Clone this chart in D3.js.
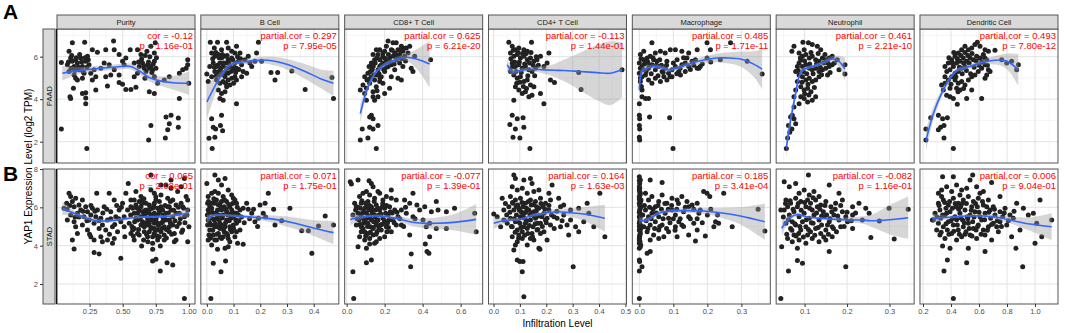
<!DOCTYPE html>
<html>
<head>
<meta charset="utf-8">
<script src="https://cdn.jsdelivr.net/npm/d3@7"></script>
<style>
body { margin: 0; background: #fff; }
svg { display: block; font-family: "Liberation Sans", Arial, sans-serif; }
</style>
</head>
<body>
<svg id="chart" width="1065" height="333"></svg>
<script>
var cells = ["Purity", "B Cell", "CD8+ T Cell", "CD4+ T Cell", "Macrophage", "Neutrophil", "Dendritic Cell"];
var cohorts = ["PAAD", "STAD"];
var corText = [
    ["cor = -0.12", "partial.cor = 0.297", "partial.cor = 0.625", "partial.cor = -0.113", "partial.cor = 0.485", "partial.cor = 0.461", "partial.cor = 0.493"],
    ["cor = 0.065", "partial.cor = 0.071", "partial.cor = -0.077", "partial.cor = 0.164", "partial.cor = 0.185", "partial.cor = -0.082", "partial.cor = 0.006"]
];
var pText = [
    ["p = 1.16e-01", "p = 7.95e-05", "p = 6.21e-20", "p = 1.44e-01", "p = 1.71e-11", "p = 2.21e-10", "p = 7.80e-12"],
    ["p = 2.08e-01", "p = 1.75e-01", "p = 1.39e-01", "p = 1.63e-03", "p = 3.41e-04", "p = 1.16e-01", "p = 9.04e-01"]
];
var xTicks = [
    [0.25, 0.5, 0.75, 1.0],
    [0, 0.1, 0.2, 0.3, 0.4],
    [0, 0.2, 0.4, 0.6],
    [0, 0.1, 0.2, 0.3, 0.4, 0.5],
    [0, 0.1, 0.2, 0.3],
    [0.1, 0.2, 0.3],
    [0.2, 0.4, 0.6, 0.8, 1.0]
];
var xDomains = [[0.004, 1.046], [-0.0225, 0.494], [-0.0105, 0.716], [-0.019, 0.504], [-0.0206, 0.385], [0.033, 0.358], [0.1786, 1.164]];
var yTicks = [[2, 4, 6], [2, 4, 6, 8]];
var yDomains = [[1.0, 7.30], [0.957, 8.0]];

// PAAD
var paadPurity = [[0.037,2.60],[0.229,1.68],[0.037,5.73],[0.095,6.25],[0.107,5.94],[0.12,5.78],[0.133,5.54],[0.145,5.86],[0.158,5.70],[0.170,5.38],[0.183,5.94],[0.196,5.54],[0.208,5.22],[0.221,5.78],[0.234,6.02],[0.246,5.62],[0.082,5.62],[0.095,5.30],[0.133,5.14],[0.158,4.90],[0.196,4.98],[0.12,6.65],[0.213,6.68],[0.271,6.33],[0.309,6.21],[0.372,6.33],[0.431,6.73],[0.436,6.33],[0.102,4.11],[0.107,4.03],[0.128,4.51],[0.145,4.98],[0.196,4.27],[0.221,4.30],[0.221,4.06],[0.221,3.79],[0.297,4.43],[0.271,4.90],[0.372,5.06],[0.385,4.62],[0.473,5.14],[0.473,4.78],[0.499,4.70],[0.524,4.46],[0.562,4.46],[0.6,4.56],[0.587,5.06],[0.612,5.22],[0.499,5.78],[0.524,5.94],[0.557,6.33],[0.587,5.70],[0.625,5.54],[0.643,5.89],[0.65,5.70],[0.663,5.46],[0.676,5.30],[0.688,5.62],[0.701,5.46],[0.713,5.54],[0.726,5.38],[0.739,5.78],[0.751,5.46],[0.713,6.49],[0.739,6.17],[0.683,6.25],[0.638,6.10],[0.612,6.33],[0.473,6.10],[0.511,5.62],[0.436,5.38],[0.41,5.14],[0.335,5.46],[0.36,5.70],[0.398,5.62],[0.284,5.38],[0.259,5.22],[0.297,5.06],[0.668,4.98],[0.701,4.35],[0.739,4.27],[0.739,5.06],[0.764,4.75],[0.814,4.90],[0.852,5.06],[0.928,4.03],[0.928,5.22],[0.979,5.46],[0.991,5.86],[0.999,4.75],[0.991,5.62],[0.953,5.38],[0.713,2.76],[0.696,2.08],[0.827,3.16],[0.865,3.24],[0.852,2.84],[0.840,2.56],[0.822,2.17],[0.92,3.11],[0.92,2.68],[0.746,6.65],
    [0.09,5.75],[0.11,5.45],[0.115,6.05],[0.14,5.35],[0.15,5.95],[0.165,5.5],[0.175,6.1],[0.19,5.75],[0.2,5.3],[0.215,5.95],[0.23,5.5],[0.24,5.85],[0.62,5.75],[0.66,5.55],[0.67,6.05],[0.695,5.75],[0.72,5.25],[0.73,5.65],[0.755,5.95],[0.705,6.0]];
var paadBCell = [[0.013,6.68],[0.04,6.68],[0.074,6.68],[0.08,6.41],[0.111,6.49],[0.0,5.19],[0.005,4.83],[0.018,6.17],[0.03,6.02],[0.043,6.10],[0.055,5.94],[0.068,6.02],[0.08,5.86],[0.093,5.94],[0.105,5.70],[0.118,5.78],[0.13,5.62],[0.024,5.70],[0.036,5.54],[0.049,5.70],[0.061,5.54],[0.074,5.46],[0.086,5.54],[0.099,5.38],[0.111,5.46],[0.03,5.30],[0.043,5.14],[0.055,5.30],[0.068,5.06],[0.08,5.22],[0.093,4.98],[0.105,5.06],[0.036,4.90],[0.049,4.75],[0.061,4.83],[0.074,4.59],[0.086,4.67],[0.043,4.43],[0.055,4.27],[0.068,4.35],[0.049,4.03],[0.061,3.95],[0.08,4.90],[0.111,4.90],[0.13,5.06],[0.149,5.22],[0.168,5.54],[0.18,5.78],[0.186,6.17],[0.193,6.68],[0.155,6.02],[0.143,5.86],[0.124,6.17],[0.136,5.30],[0.111,3.79],[0.018,5.06],[0.011,5.54],[0.028,6.41],[0.105,6.17],[0.055,6.33],[0.074,5.70],[0.093,6.25],[0.161,5.70],[0.205,5.78],[0.24,5.25],[0.255,4.90],[0.265,5.25],[0.318,5.33],[0.368,4.46],[0.468,5.02],[0.474,4.03],[0.018,3.08],[0.024,2.68],[0.033,2.60],[0.008,2.16],[0.02,1.68],[0.055,3.24],[0.051,2.76],[0.059,2.52],[0.03,2.21],
    [0.022,5.9],[0.028,5.5],[0.034,6.2],[0.04,5.6],[0.046,5.95],[0.052,5.45],[0.058,6.1],[0.063,5.7],[0.07,5.25],[0.076,6.05],[0.083,5.7],[0.09,5.3],[0.097,5.85],[0.102,5.5],[0.108,5.25],[0.115,6.0],[0.12,5.4],[0.126,5.9],[0.06,5.15],[0.045,5.3],[0.035,5.1],[0.07,4.75],[0.1,4.75]];
var paadCD8 = [[0.072,2.08],[0.082,2.60],[0.112,2.17],[0.121,2.68],[0.139,2.60],[0.165,2.76],[0.156,1.68],[0.121,3.16],[0.13,3.24],[0.139,3.08],[0.072,4.43],[0.086,4.67],[0.095,4.27],[0.104,4.51],[0.107,4.90],[0.121,4.75],[0.13,5.06],[0.139,4.35],[0.139,4.11],[0.147,4.90],[0.156,5.14],[0.156,4.59],[0.165,5.38],[0.174,5.54],[0.182,5.06],[0.191,5.70],[0.2,5.30],[0.209,5.78],[0.218,5.54],[0.226,5.94],[0.235,5.62],[0.244,6.02],[0.253,6.17],[0.261,5.86],[0.27,6.33],[0.279,6.10],[0.288,6.49],[0.296,6.25],[0.305,6.02],[0.314,6.41],[0.323,6.17],[0.118,5.54],[0.13,5.70],[0.147,5.86],[0.165,6.10],[0.174,6.33],[0.191,6.17],[0.209,6.49],[0.218,6.73],[0.244,6.65],[0.261,6.65],[0.112,5.22],[0.095,5.06],[0.174,4.83],[0.191,4.75],[0.235,5.06],[0.27,4.98],[0.288,4.90],[0.34,5.46],[0.349,5.30],[0.442,5.86],[0.332,6.49],[0.358,6.02],[0.226,4.51],[0.2,4.27],[0.165,4.11],[0.147,3.95],[0.104,3.95],[0.156,6.33],[0.139,6.10],[0.135,5.38],[0.174,5.86],[0.2,5.94],[0.235,6.33],[0.279,5.70],[0.296,5.54],[0.253,5.38],
    [0.125,5.3],[0.14,5.55],[0.15,5.7],[0.16,5.95],[0.17,5.2],[0.18,5.6],[0.19,6.0],[0.2,6.25],[0.21,5.5],[0.22,6.1],[0.23,5.75],[0.24,6.3],[0.25,5.65],[0.26,6.1],[0.27,5.95],[0.28,6.3],[0.29,5.9],[0.3,6.4],[0.31,5.8],[0.12,4.95],[0.145,5.15],[0.16,4.4],[0.175,5.0],[0.195,5.4]];
var paadCD4 = [[0.071,3.24],[0.09,3.08],[0.112,3.13],[0.062,2.81],[0.083,2.60],[0.115,2.68],[0.074,2.21],[0.1,2.17],[0.138,1.68],[0.058,6.68],[0.071,6.49],[0.083,6.33],[0.096,6.41],[0.115,6.33],[0.144,6.68],[0.064,6.17],[0.077,6.02],[0.09,6.10],[0.102,5.94],[0.115,6.02],[0.128,5.86],[0.14,5.94],[0.153,5.78],[0.165,5.86],[0.178,6.02],[0.071,5.70],[0.083,5.54],[0.096,5.62],[0.109,5.46],[0.121,5.54],[0.134,5.38],[0.146,5.30],[0.159,5.46],[0.064,5.30],[0.077,5.14],[0.09,4.98],[0.102,5.06],[0.115,4.83],[0.128,4.90],[0.14,4.67],[0.153,4.59],[0.083,4.59],[0.096,4.43],[0.109,4.27],[0.121,4.35],[0.134,4.11],[0.146,4.19],[0.077,3.95],[0.191,3.79],[0.178,4.27],[0.203,5.70],[0.191,5.54],[0.216,4.90],[0.21,6.17],[0.231,4.78],[0.128,6.25],[0.323,5.25],[0.332,4.46],[0.487,5.38],
    [0.066,5.9],[0.07,5.5],[0.075,6.3],[0.08,5.75],[0.085,5.3],[0.088,4.75],[0.093,6.2],[0.098,5.75],[0.105,5.25],[0.11,6.15],[0.113,4.6],[0.118,5.65],[0.124,6.15],[0.13,5.1],[0.136,5.7],[0.142,6.2],[0.15,5.6],[0.156,5.1],[0.162,6.0],[0.17,5.6],[0.1,4.8],[0.125,4.5]];
var paadMacrophage = [[0.0,3.79],[0.0,3.24],[0.001,3.08],[0.0,2.76],[0.001,2.60],[0.0,2.21],[0.001,2.08],[0.03,3.16],[0.089,3.13],[0.099,1.68],[0.008,4.11],[0.018,4.03],[0.027,4.03],[0.008,4.43],[0.003,4.83],[0.003,6.10],[0.013,6.25],[0.037,6.65],[0.047,6.17],[0.062,6.25],[0.076,6.17],[0.091,6.33],[0.106,6.33],[0.125,6.25],[0.145,6.17],[0.17,6.33],[0.199,6.65],[0.209,6.33],[0.268,6.65],[0.0,5.70],[0.008,5.54],[0.018,5.70],[0.027,5.46],[0.037,5.62],[0.047,5.38],[0.057,5.54],[0.067,5.30],[0.076,5.46],[0.086,5.22],[0.096,5.38],[0.106,5.54],[0.116,5.30],[0.125,5.62],[0.135,5.70],[0.145,5.54],[0.155,5.78],[0.165,5.86],[0.175,5.46],[0.0,5.22],[0.008,5.06],[0.018,5.14],[0.027,4.90],[0.037,4.75],[0.047,4.98],[0.062,4.83],[0.072,5.06],[0.081,4.90],[0.096,5.06],[0.121,5.14],[0.135,5.30],[0.003,5.46],[0.013,5.86],[0.023,5.94],[0.032,6.02],[0.042,5.86],[0.052,5.78],[0.081,5.78],[0.111,5.86],[0.14,5.94],[0.199,5.94],[0.238,5.86],[0.317,5.78],[0.361,5.19],[0.17,5.46],[0.179,5.54],
    [0.005,5.9],[0.01,5.4],[0.015,5.65],[0.02,5.3],[0.025,5.75],[0.03,5.55],[0.035,5.2],[0.04,5.95],[0.05,5.6],[0.055,5.1],[0.06,5.85],[0.065,5.6],[0.07,5.25],[0.08,5.6],[0.09,5.05],[0.1,5.7],[0.11,5.2],[0.12,5.45],[0.13,5.95],[0.15,5.4],[0.16,5.6],[0.185,5.65],[0.21,5.75],[0.003,5.0],[0.006,4.6]];
var paadNeutrophil = [[0.057,1.68],[0.06,2.17],[0.062,2.76],[0.067,3.16],[0.071,3.24],[0.075,3.08],[0.079,2.84],[0.07,2.60],[0.065,2.44],[0.07,6.25],[0.075,6.49],[0.096,6.68],[0.109,6.65],[0.118,6.57],[0.13,6.49],[0.087,6.17],[0.095,6.02],[0.103,6.10],[0.111,5.94],[0.118,6.02],[0.126,5.86],[0.134,5.78],[0.142,5.94],[0.15,5.86],[0.158,5.94],[0.165,6.02],[0.177,5.86],[0.087,5.70],[0.095,5.54],[0.103,5.62],[0.111,5.46],[0.118,5.38],[0.126,5.46],[0.134,5.30],[0.142,5.38],[0.15,5.46],[0.079,5.30],[0.087,5.14],[0.095,5.06],[0.103,4.90],[0.111,4.98],[0.118,4.83],[0.126,4.90],[0.083,4.83],[0.091,4.59],[0.099,4.43],[0.107,4.51],[0.115,4.35],[0.091,4.11],[0.099,4.03],[0.107,3.87],[0.126,4.11],[0.118,3.95],[0.154,5.14],[0.083,5.54],[0.091,5.86],[0.099,6.33],[0.138,6.33],[0.134,5.06],[0.158,5.54],[0.195,5.62],[0.195,5.19],[0.181,5.38],[0.165,5.62],[0.079,4.43],[0.075,4.11],[0.075,3.63],[0.087,3.79],
    [0.085,5.35],[0.09,5.95],[0.094,4.8],[0.097,5.3],[0.1,5.8],[0.105,5.2],[0.108,4.7],[0.112,5.65],[0.115,6.2],[0.12,5.2],[0.123,4.55],[0.128,5.65],[0.132,6.15],[0.137,5.5],[0.14,5.15],[0.145,5.7],[0.148,6.1],[0.155,5.7],[0.16,5.25],[0.17,5.7],[0.1,4.25],[0.11,4.2]];
var paadDendritic = [[0.221,2.60],[0.221,2.08],[0.255,3.13],[0.31,3.24],[0.34,3.08],[0.374,3.13],[0.35,2.76],[0.31,2.56],[0.326,2.68],[0.35,2.17],[0.417,1.68],[0.445,3.76],[0.333,4.67],[0.357,4.75],[0.381,4.90],[0.405,5.06],[0.429,5.22],[0.452,5.30],[0.476,5.46],[0.5,5.54],[0.357,5.54],[0.381,5.70],[0.405,5.86],[0.429,6.02],[0.452,6.17],[0.476,6.33],[0.5,6.49],[0.524,6.33],[0.548,6.41],[0.571,6.57],[0.588,6.68],[0.607,6.49],[0.643,6.33],[0.667,6.25],[0.714,6.30],[0.393,5.38],[0.417,5.54],[0.44,5.70],[0.464,5.78],[0.488,5.94],[0.512,5.78],[0.536,5.94],[0.56,5.86],[0.583,6.02],[0.607,5.94],[0.631,6.10],[0.655,5.86],[0.429,4.90],[0.452,4.75],[0.476,4.83],[0.5,4.67],[0.524,4.90],[0.548,5.06],[0.571,5.14],[0.595,5.30],[0.619,5.46],[0.643,5.62],[0.667,5.38],[0.369,4.19],[0.393,4.11],[0.417,4.03],[0.464,4.43],[0.512,4.03],[0.548,4.43],[0.619,4.03],[0.643,4.98],[0.655,5.14],[0.679,5.30],[0.762,5.86],[0.798,5.70],[0.833,5.78],[0.881,5.62],[0.869,5.38],[0.357,5.06],[0.345,4.43],[0.393,4.51],[0.44,4.51],
    [0.37,5.3],[0.385,5.95],[0.4,4.7],[0.41,5.7],[0.42,6.2],[0.435,5.05],[0.445,5.9],[0.46,5.5],[0.47,6.05],[0.48,5.2],[0.49,5.7],[0.5,6.2],[0.51,5.35],[0.52,6.05],[0.53,5.7],[0.54,5.2],[0.55,6.15],[0.565,5.5],[0.58,5.8],[0.6,5.6],[0.62,5.75],[0.64,5.95],[0.66,5.6],[0.45,4.35],[0.49,4.5]];

// STAD
var stadPurity = [[0.057,5.95],[0.077,6.21],[0.095,6.73],[0.107,6.56],[0.12,6.30],[0.133,6.03],[0.145,6.47],[0.158,5.69],[0.17,6.12],[0.183,5.86],[0.196,6.38],[0.208,5.51],[0.221,6.03],[0.234,5.77],[0.246,5.34],[0.259,5.60],[0.271,5.95],[0.284,5.17],[0.297,5.51],[0.309,5.86],[0.322,4.90],[0.335,5.43],[0.347,5.08],[0.36,6.03],[0.372,4.82],[0.385,5.34],[0.398,6.73],[0.41,5.77],[0.423,4.99],[0.436,6.38],[0.448,5.51],[0.461,4.73],[0.473,5.86],[0.304,6.73],[0.133,5.25],[0.145,4.99],[0.158,4.64],[0.196,5.08],[0.234,4.82],[0.259,4.47],[0.284,4.30],[0.335,4.47],[0.385,4.30],[0.436,4.38],[0.107,5.60],[0.082,5.34],[0.486,5.25],[0.12,4.30],[0.133,3.83],[0.284,3.65],[0.322,3.57],[0.347,4.21],[0.423,4.12],
    [0.499,6.21],[0.511,5.51],[0.524,6.73],[0.537,5.86],[0.549,5.17],[0.562,6.38],[0.575,4.82],[0.587,5.69],[0.6,6.12],[0.612,5.34],[0.625,4.56],[0.638,6.56],[0.65,5.77],[0.663,4.99],[0.676,6.21],[0.688,5.43],[0.701,4.73],[0.713,6.90],[0.726,5.95],[0.739,5.17],[0.751,6.38],[0.764,5.60],[0.777,4.47],[0.789,6.64],[0.802,5.86],[0.814,4.99],[0.827,7.17],[0.84,6.03],[0.852,5.34],[0.865,7.43],[0.878,6.38],[0.89,4.64],[0.903,5.69],[0.915,6.82],[0.928,5.17],[0.941,6.21],[0.953,4.82],[0.966,5.51],[0.979,6.56],[0.991,5.86],[1.0,4.99],[0.542,7.25],[0.713,7.69],[0.789,7.17],[0.865,6.99],[0.966,7.51],[0.6,6.82],[0.516,4.47],[0.587,4.30],[0.658,4.30],[0.726,4.12],[0.814,4.30],[0.89,4.21],[0.739,4.90],[0.638,6.03],[0.688,5.86],[0.764,5.95],[0.814,5.51],[0.865,5.86],[0.663,5.60],[0.713,5.51],[0.612,5.69],[0.84,4.82],[0.789,5.17],[0.928,5.69],[0.903,4.30],[0.991,4.21],[0.726,3.81],[0.784,3.98],[0.643,3.98],[0.726,3.20],[0.751,3.29],[0.784,2.68],[0.835,3.11],[0.878,2.99],[0.966,1.25],[0.486,3.34],[0.562,4.64],[0.688,5.08],[0.764,4.82],[0.878,5.08],[0.953,6.03],[0.511,4.99],[0.65,6.38],[0.562,6.03],[0.739,6.73],[0.84,6.47],[0.941,7.08],[0.991,6.38],
    [0.575,5.95],[0.6,5.43],[0.625,5.86],[0.65,5.25],[0.676,5.69],[0.701,5.17],[0.726,5.60],[0.751,5.34],[0.777,5.77],[0.802,5.25],[0.827,5.69],[0.852,4.99],[0.878,5.51],[0.903,6.12],[0.587,4.90],[0.612,4.64],[0.638,5.08],[0.663,4.73],[0.688,4.47],[0.713,4.90],[0.739,4.64],[0.764,5.17],[0.789,4.73],[0.814,4.56],[0.852,4.73],[0.739,5.69],[0.701,6.12],[0.777,6.30],[0.827,5.34],[0.625,6.30],[0.676,5.17],[0.726,4.47],[0.764,4.30],[0.701,5.69],[0.802,5.60],[0.852,6.03],[0.587,6.38],[0.638,5.51],[0.789,6.03],[0.739,6.21],
    [0.56,5.6],[0.57,5.0],[0.59,5.25],[0.61,5.95],[0.62,4.85],[0.63,5.4],[0.645,6.2],[0.655,5.05],[0.67,5.85],[0.68,4.6],[0.69,5.3],[0.705,5.9],[0.715,4.95],[0.72,5.35],[0.735,6.05],[0.745,4.8],[0.755,5.5],[0.77,5.05],[0.78,5.85],[0.795,4.9],[0.805,5.45],[0.82,6.1],[0.83,4.85],[0.845,5.7],[0.86,5.2],[0.87,4.6],[0.885,5.85],[0.895,5.3],[0.91,5.0],[0.92,6.0],[0.935,5.4],[0.945,4.7],[0.96,5.95],[0.97,5.2],[0.985,5.6],[0.69,4.2],[0.76,4.5],[0.83,4.4],[0.58,4.5],[0.66,6.45],[0.75,6.55],[0.86,6.3],
    [0.08,5.9],[0.1,6.1],[0.14,5.5],[0.17,5.5],[0.2,5.8],[0.23,5.3],[0.26,6.1],[0.29,5.8],[0.32,5.3],[0.35,5.7],[0.38,5.9],[0.41,5.4],[0.44,5.1],[0.47,5.4],[0.49,6.0],[0.25,4.6],[0.4,4.6],[0.455,6.1]];
var stadBCell = [[0.0,7.25],[0.018,6.73],[0.03,7.69],[0.043,7.43],[0.055,7.17],[0.068,7.51],[0.08,6.90],[0.036,6.38],[0.049,6.12],[0.061,6.56],[0.074,6.30],[0.086,6.03],[0.099,6.47],[0.111,6.21],[0.124,5.86],[0.005,6.56],[0.011,6.03],[0.024,5.69],[0.036,5.43],[0.049,5.17],[0.061,5.60],[0.074,5.34],[0.086,4.99],[0.099,5.51],[0.111,5.17],[0.124,4.82],[0.005,5.34],[0.011,4.82],[0.024,4.56],[0.036,4.30],[0.049,4.90],[0.061,4.47],[0.074,4.64],[0.086,4.21],[0.105,4.47],[0.005,4.30],[0.018,4.03],[0.03,4.99],[0.043,4.64],[0.055,5.86],[0.068,4.99],[0.08,5.60],[0.093,4.73],[0.118,5.60],[0.136,5.95],[0.149,6.21],[0.168,5.69],[0.18,5.25],[0.193,5.43],[0.211,5.69],[0.23,6.73],[0.199,6.12],[0.218,6.21],[0.255,5.08],[0.311,5.95],[0.355,4.78],[0.38,4.78],[0.393,3.60],[0.418,5.03],[0.443,5.55],[0.474,5.08],[0.136,4.07],[0.024,3.08],[0.053,2.64],[0.07,3.20],[0.015,1.25],[0.068,3.86],[0.04,3.81],[0.105,6.38],[0.018,6.21],[0.005,5.86],[0.115,4.12],[0.08,3.95],
    [0.003,6.21],[0.008,5.69],[0.003,5.08],[0.008,4.56],[0.018,5.95],[0.018,5.43],[0.018,5.08],[0.028,6.21],[0.028,5.34],[0.03,4.30],[0.04,5.86],[0.04,4.99],[0.045,5.60],[0.055,6.30],[0.055,5.08],[0.055,4.38],[0.065,6.03],[0.065,4.73],[0.074,5.77],[0.08,4.38],[0.09,5.43],[0.093,5.86],[0.099,5.08],[0.111,5.69],[0.111,4.73],[0.043,6.73],[0.03,6.82],[0.093,6.64],
    [0.002,5.6],[0.006,6.3],[0.01,5.2],[0.014,4.4],[0.02,5.75],[0.022,4.8],[0.026,6.45],[0.032,5.15],[0.034,5.7],[0.038,4.6],[0.042,6.15],[0.046,5.35],[0.05,4.45],[0.052,5.95],[0.058,5.45],[0.062,4.85],[0.066,6.4],[0.07,5.2],[0.072,5.9],[0.078,4.55],[0.082,6.15],[0.084,5.3],[0.088,4.85],[0.09,5.65],[0.096,6.2],[0.1,4.9],[0.103,5.7],[0.108,5.35],[0.114,6.0],[0.12,5.3],[0.13,5.5],[0.14,5.2],[0.155,5.9],[0.16,5.4],[0.175,5.9],[0.19,5.0],[0.22,5.5],[0.25,5.9],[0.28,5.3]];
var stadCD8 = [[0.019,7.34],[0.025,7.22],[0.06,7.43],[0.118,7.39],[0.13,7.25],[0.139,7.08],[0.165,6.82],[0.174,6.73],[0.068,6.56],[0.086,6.73],[0.104,6.82],[0.121,6.64],[0.147,6.47],[0.191,6.38],[0.209,6.56],[0.235,6.47],[0.042,6.21],[0.051,6.03],[0.077,6.21],[0.095,5.95],[0.112,6.30],[0.13,6.03],[0.156,6.12],[0.174,5.86],[0.2,5.95],[0.226,6.03],[0.253,5.86],[0.033,5.60],[0.06,5.69],[0.086,5.43],[0.104,5.69],[0.121,5.51],[0.147,5.60],[0.165,5.34],[0.191,5.43],[0.218,5.60],[0.244,5.34],[0.27,5.51],[0.051,5.08],[0.077,4.99],[0.095,4.73],[0.112,5.17],[0.139,4.90],[0.156,5.08],[0.182,4.82],[0.209,4.99],[0.235,4.73],[0.261,5.08],[0.068,4.47],[0.095,4.30],[0.121,4.38],[0.139,4.56],[0.174,4.38],[0.2,4.47],[0.104,3.86],[0.121,4.09],[0.147,4.12],[0.06,3.95],[0.288,5.86],[0.305,6.38],[0.332,6.21],[0.349,6.73],[0.37,6.12],[0.384,5.86],[0.402,5.34],[0.419,4.99],[0.437,4.47],[0.288,5.08],[0.332,4.56],[0.349,5.51],[0.411,6.03],[0.437,5.17],[0.446,5.77],[0.481,5.86],[0.525,5.77],[0.568,5.95],[0.472,4.90],[0.525,4.90],[0.674,5.69],[0.682,4.73],[0.34,3.57],[0.337,2.90],[0.423,3.69],[0.433,3.60],[0.414,4.09],[0.13,3.25],[0.104,3.11],[0.033,2.64],[0.037,1.25],[0.235,6.90],[0.261,6.38],[0.314,5.69],[0.472,6.30],
    [0.047,5.86],[0.065,5.34],[0.072,5.95],[0.082,5.69],[0.089,5.17],[0.1,6.21],[0.107,5.43],[0.118,5.86],[0.125,4.99],[0.135,5.69],[0.142,5.25],[0.153,5.86],[0.16,4.73],[0.17,5.60],[0.177,5.08],[0.188,6.03],[0.195,5.17],[0.205,5.69],[0.212,4.73],[0.223,5.34],[0.23,5.77],[0.077,4.73],[0.112,4.64],[0.156,4.21],
    [0.055,5.4],[0.06,6.0],[0.07,5.1],[0.075,5.6],[0.08,6.35],[0.085,4.9],[0.09,5.8],[0.095,5.3],[0.1,4.5],[0.105,6.05],[0.11,5.0],[0.115,5.55],[0.12,6.1],[0.125,4.7],[0.13,5.35],[0.135,5.9],[0.14,4.95],[0.145,6.3],[0.15,5.5],[0.155,4.6],[0.16,5.3],[0.165,5.95],[0.17,4.9],[0.18,5.65],[0.185,5.1],[0.19,6.2],[0.2,5.3],[0.21,6.1],[0.215,5.2],[0.22,4.95],[0.24,5.7],[0.25,5.2],[0.265,5.75],[0.28,5.4],[0.3,5.0],[0.31,6.0],[0.36,5.4]];
var stadCD4 = [[0.077,7.69],[0.083,7.51],[0.115,7.43],[0.14,7.51],[0.146,7.25],[0.071,7.08],[0.09,6.90],[0.109,6.99],[0.128,6.73],[0.153,6.82],[0.172,6.90],[0.21,6.73],[0.222,7.17],[0.064,6.56],[0.083,6.38],[0.102,6.47],[0.121,6.21],[0.14,6.38],[0.159,6.30],[0.178,6.47],[0.197,6.21],[0.216,6.38],[0.247,6.47],[0.266,6.12],[0.058,6.03],[0.077,5.86],[0.096,5.95],[0.115,5.69],[0.134,5.86],[0.153,5.77],[0.172,5.95],[0.191,5.69],[0.21,5.86],[0.229,5.51],[0.254,6.03],[0.266,5.60],[0.292,5.86],[0.064,5.43],[0.083,5.25],[0.102,5.51],[0.121,5.17],[0.14,5.34],[0.159,5.43],[0.178,5.17],[0.197,5.34],[0.216,5.08],[0.241,5.43],[0.001,5.65],[0.014,5.51],[0.039,5.34],[0.052,5.17],[0.071,4.99],[0.09,4.82],[0.109,4.73],[0.128,4.90],[0.146,4.64],[0.165,4.82],[0.191,4.73],[0.071,4.47],[0.09,4.21],[0.109,4.38],[0.128,4.03],[0.153,4.30],[0.172,3.86],[0.178,4.64],[0.077,3.77],[0.083,4.03],[0.09,3.25],[0.1,3.17],[0.112,3.17],[0.109,2.64],[0.115,1.34],[0.176,3.81],[0.279,5.08],[0.292,5.34],[0.323,5.95],[0.323,4.73],[0.355,6.21],[0.361,5.69],[0.38,4.99],[0.403,6.73],[0.422,4.47],[0.302,2.90],[0.203,4.30],[0.254,4.99],[0.311,4.99],[0.342,5.25],[0.285,4.56],[0.039,5.86],[0.033,6.47],[0.027,4.99],
    [0.074,6.21],[0.087,5.60],[0.092,6.12],[0.1,5.17],[0.105,5.77],[0.112,6.03],[0.117,5.43],[0.125,5.95],[0.13,4.64],[0.138,5.60],[0.143,6.12],[0.15,4.99],[0.155,5.51],[0.163,6.03],[0.168,5.17],[0.184,5.51],[0.188,6.03],[0.203,5.43],[0.096,4.56],[0.115,4.99],[0.14,4.38],
    [0.062,5.75],[0.068,5.0],[0.072,6.25],[0.078,5.4],[0.082,4.7],[0.086,6.05],[0.092,5.3],[0.095,4.4],[0.098,5.85],[0.104,4.95],[0.108,6.25],[0.112,5.6],[0.118,4.55],[0.122,5.75],[0.126,5.3],[0.132,6.3],[0.136,5.05],[0.142,5.7],[0.148,4.45],[0.152,6.15],[0.158,5.15],[0.162,5.8],[0.168,4.85],[0.172,5.55],[0.18,6.2],[0.185,5.0],[0.195,5.9],[0.2,5.2],[0.21,6.1],[0.22,5.6],[0.23,4.9],[0.24,5.8],[0.26,5.3],[0.05,5.6],[0.045,6.2]];
var stadMacrophage = [[0,7.60],[0.001,7.25],[0,6.90],[0,6.56],[0,6.21],[0.001,5.86],[0,5.51],[0,5.17],[0,4.82],[0.001,4.47],[0,4.12],[0,3.86],[0.003,7.43],[0.003,6.73],[0.004,6.03],[0.002,5.34],[0.003,4.64],[0.005,6.38],[0.005,4.99],[0,3.25],[0.001,3.17],[0,2.68],[0,1.25],[0.008,2.90],[0,7.08],[0.002,5.69],[0,4.30],[0.004,4.03],[0.001,6.38],[0.003,5.08],
    [0,7.4],[0.001,7.0],[0.002,6.65],[0,6.45],[0.001,6.1],[0.003,5.95],[0,5.75],[0.002,5.45],[0.001,5.25],[0,5.0],[0.002,4.75],[0.001,4.55],[0,4.4],[0.002,4.2],[0.003,3.95],[0.001,6.8],[0.003,6.25],[0.002,5.55],[0.004,4.9],
    [0.018,6.73],[0.027,6.38],[0.037,6.56],[0.047,6.03],[0.057,6.30],[0.067,6.64],[0.081,6.21],[0.096,6.47],[0.111,6.38],[0.125,6.56],[0.14,6.30],[0.155,6.12],[0.17,6.21],[0.018,5.86],[0.027,5.51],[0.037,5.69],[0.047,5.25],[0.057,5.51],[0.067,5.08],[0.076,5.69],[0.086,5.43],[0.096,5.86],[0.106,5.60],[0.116,5.25],[0.13,5.77],[0.145,5.51],[0.16,5.17],[0.175,5.69],[0.013,4.99],[0.023,4.73],[0.032,5.08],[0.042,4.56],[0.057,4.82],[0.072,4.47],[0.086,4.73],[0.106,4.99],[0.125,5.08],[0.145,4.56],[0.17,4.82],[0.032,7.43],[0.067,7.29],[0.032,3.69],[0.023,3.60],[0.057,4.38],[0.032,4.30],[0.189,6.82],[0.199,6.73],[0.207,6.56],[0.248,6.73],[0.224,5.25],[0.219,4.99],[0.233,5.17],[0.273,4.99],[0.194,4.50],[0.165,4.24],[0.349,5.90],[0.369,4.77],[0.145,6.03],[0.179,5.86],[0.111,4.47],
    [0.01,5.6],[0.015,6.1],[0.02,5.3],[0.025,4.9],[0.03,6.0],[0.035,5.4],[0.04,5.9],[0.045,4.9],[0.05,5.7],[0.055,6.1],[0.06,5.0],[0.065,5.9],[0.07,5.4],[0.075,6.2],[0.08,4.9],[0.085,5.9],[0.09,5.2],[0.095,6.1],[0.1,5.4],[0.105,4.8],[0.11,5.9],[0.115,6.2],[0.12,5.4],[0.13,5.0],[0.135,6.0],[0.15,5.4],[0.16,5.9],[0.17,5.4],[0.185,5.2],[0.2,5.6],[0.21,5.9],[0.23,5.6]];
var stadNeutrophil = [[0.052,7.34],[0.064,7.08],[0.079,7.25],[0.109,7.69],[0.087,6.73],[0.099,6.90],[0.111,6.64],[0.122,6.82],[0.134,6.56],[0.158,7.17],[0.181,6.73],[0.056,6.38],[0.067,6.21],[0.079,6.47],[0.091,6.30],[0.103,6.03],[0.114,6.21],[0.126,6.38],[0.138,6.12],[0.15,6.30],[0.162,6.03],[0.173,6.21],[0.189,6.38],[0.213,6.03],[0.228,6.21],[0.052,5.86],[0.064,5.60],[0.075,5.77],[0.087,5.51],[0.099,5.69],[0.111,5.43],[0.122,5.60],[0.134,5.34],[0.146,5.51],[0.158,5.25],[0.169,5.60],[0.181,5.34],[0.197,5.51],[0.213,5.60],[0.236,5.34],[0.056,5.17],[0.067,4.90],[0.079,5.08],[0.091,4.82],[0.103,4.99],[0.114,4.73],[0.126,4.90],[0.138,4.64],[0.15,4.82],[0.165,4.99],[0.185,4.99],[0.213,4.90],[0.06,4.38],[0.071,4.21],[0.087,4.30],[0.103,4.12],[0.118,4.38],[0.134,4.21],[0.15,4.30],[0.165,4.47],[0.046,3.95],[0.083,3.86],[0.158,3.69],[0.083,3.22],[0.095,3.08],[0.062,2.68],[0.197,2.90],[0.044,1.25],[0.044,5.86],[0.244,5.95],[0.252,5.69],[0.299,5.95],[0.311,4.35],[0.256,4.42],[0.276,5.29],[0.344,5.90],
    [0.06,6.03],[0.071,5.25],[0.083,6.03],[0.086,4.64],[0.095,5.25],[0.107,6.38],[0.107,4.56],[0.118,5.86],[0.12,5.17],[0.13,6.03],[0.14,5.08],[0.144,5.77],[0.154,5.08],[0.164,5.77],[0.175,4.73],[0.189,5.77],[0.201,5.25],[0.075,4.56],
    [0.05,5.5],[0.055,6.2],[0.058,4.6],[0.062,5.35],[0.066,6.35],[0.07,4.8],[0.073,5.9],[0.077,5.15],[0.08,4.5],[0.085,6.2],[0.089,5.0],[0.092,5.85],[0.097,4.45],[0.1,6.25],[0.104,5.35],[0.109,4.85],[0.112,5.95],[0.116,5.2],[0.12,6.5],[0.124,4.55],[0.128,5.7],[0.132,4.95],[0.136,5.9],[0.14,5.55],[0.145,4.45],[0.148,6.1],[0.152,5.6],[0.156,4.6],[0.16,5.4],[0.168,4.9],[0.172,5.9],[0.178,5.55],[0.185,6.1],[0.193,5.0],[0.2,5.75],[0.21,5.3],[0.22,5.7]];
var stadDendritic = [[0.34,7.60],[0.417,7.60],[0.536,7.43],[0.555,7.69],[0.69,7.29],[0.31,6.73],[0.333,6.90],[0.369,7.08],[0.405,6.82],[0.44,7.17],[0.476,6.90],[0.512,6.99],[0.583,7.08],[0.631,6.82],[0.31,6.21],[0.345,6.38],[0.381,6.12],[0.417,6.47],[0.452,6.21],[0.488,6.38],[0.524,6.56],[0.56,6.30],[0.595,6.47],[0.631,6.12],[0.667,6.38],[0.702,6.03],[0.75,6.56],[0.286,5.69],[0.321,5.86],[0.357,5.60],[0.393,5.77],[0.429,5.51],[0.464,5.69],[0.5,5.86],[0.536,5.60],[0.571,5.77],[0.607,5.51],[0.643,5.69],[0.679,5.86],[0.714,5.60],[0.75,5.77],[0.786,5.95],[0.821,5.60],[0.869,6.21],[0.917,5.95],[0.274,5.34],[0.31,5.17],[0.345,4.99],[0.381,5.25],[0.417,5.08],[0.452,4.82],[0.488,4.99],[0.524,5.17],[0.56,4.90],[0.595,5.08],[0.631,4.82],[0.667,4.99],[0.702,5.17],[0.75,5.25],[0.798,5.08],[0.845,5.43],[0.893,4.82],[0.952,5.60],[0.988,5.69],[1.012,5.17],[1.036,6.38],[1.048,4.47],[1.0,4.12],[1.119,5.34],[0.321,4.56],[0.357,4.38],[0.405,4.64],[0.44,4.30],[0.476,4.47],[0.536,4.56],[0.583,4.38],[0.643,4.56],[0.69,4.30],[0.738,4.73],[0.833,4.47],[0.34,3.98],[0.393,3.86],[0.524,3.86],[0.643,3.69],[0.864,3.86],[0.374,3.25],[0.35,2.68],[0.512,3.11],[0.912,2.90],[0.417,1.25],[0.267,5.34],[0.298,4.82],
    [0.326,5.43],[0.364,5.95],[0.374,4.82],[0.412,5.43],[0.436,6.03],[0.445,5.08],[0.469,6.03],[0.483,5.34],[0.507,4.73],[0.517,5.51],[0.548,6.03],[0.555,5.25],[0.579,4.82],[0.588,6.03],[0.619,5.34],[0.655,6.03],[0.683,5.43],[0.726,4.99],[0.769,5.51],[0.333,6.56],[0.464,6.64],[0.607,6.73],
    [0.3,5.5],[0.315,6.1],[0.33,4.7],[0.34,5.6],[0.355,6.25],[0.365,5.15],[0.37,5.7],[0.385,4.6],[0.39,6.3],[0.4,5.3],[0.41,5.95],[0.42,4.75],[0.43,6.2],[0.44,5.35],[0.455,5.9],[0.46,4.6],[0.47,5.45],[0.48,6.2],[0.495,5.2],[0.5,4.6],[0.51,6.2],[0.52,5.4],[0.53,4.9],[0.545,5.85],[0.55,4.5],[0.565,5.5],[0.575,6.2],[0.59,5.0],[0.6,5.75],[0.615,4.6],[0.625,6.3],[0.64,5.35],[0.66,4.8],[0.67,5.75],[0.69,5.1],[0.71,5.9],[0.73,5.3],[0.76,5.0],[0.78,5.7],[0.81,5.3],[0.85,5.8]];

// smooth fit: [x, fit, half width of confidence band]
var paadPurityFit = [[0.044,5.22,0.35],[0.15,5.33,0.18],[0.3,5.43,0.13],[0.45,5.51,0.13],[0.56,5.54,0.14],[0.64,5.27,0.16],[0.7,5.02,0.18],[0.78,4.86,0.22],[0.88,4.77,0.32],[1.0,4.75,0.55]];
var paadBCellFit = [[0.0,3.87,0.8],[0.043,4.90,0.3],[0.08,5.54,0.12],[0.105,5.70,0.1],[0.155,5.78,0.12],[0.205,5.84,0.15],[0.255,5.78,0.2],[0.305,5.62,0.26],[0.368,5.30,0.35],[0.43,4.94,0.45],[0.474,4.75,0.6]];
var paadCD8Fit = [[0.072,3.32,0.45],[0.095,4.11,0.25],[0.121,4.75,0.15],[0.156,5.30,0.1],[0.2,5.62,0.1],[0.261,5.86,0.12],[0.314,5.97,0.18],[0.367,5.89,0.45],[0.437,5.65,1.1]];
var paadCD4Fit = [[0.052,5.62,0.3],[0.071,5.30,0.15],[0.102,5.35,0.1],[0.14,5.41,0.1],[0.19,5.38,0.18],[0.23,5.36,0.3],[0.266,5.35,0.5],[0.33,5.30,0.9],[0.393,5.25,1.3],[0.443,5.22,1.5],[0.487,5.38,1.3]];
var paadMacrophageFit = [[0,4.43,0.6],[0.008,5.30,0.2],[0.023,5.46,0.12],[0.042,5.54,0.1],[0.072,5.46,0.1],[0.086,5.38,0.1],[0.111,5.46,0.1],[0.14,5.62,0.12],[0.179,5.81,0.15],[0.228,5.94,0.2],[0.258,5.94,0.25],[0.297,5.89,0.35],[0.336,5.65,0.6],[0.361,5.41,0.95]];
var paadNeutrophilFit = [[0.057,1.73,0.5],[0.067,3.0,0.35],[0.079,4.27,0.2],[0.087,5.06,0.12],[0.096,5.38,0.1],[0.118,5.54,0.08],[0.142,5.70,0.1],[0.158,5.86,0.12],[0.169,5.89,0.15],[0.181,5.78,0.25],[0.195,5.41,0.55]];
var paadDendriticFit = [[0.221,2.05,0.5],[0.274,3.32,0.3],[0.333,4.27,0.18],[0.393,4.98,0.12],[0.44,5.35,0.1],[0.536,5.54,0.1],[0.631,5.75,0.12],[0.714,5.83,0.2],[0.774,5.83,0.3],[0.821,5.70,0.45],[0.881,5.38,0.75]];
var stadPurityFit = [[0.044,5.95,0.35],[0.133,5.69,0.15],[0.234,5.43,0.1],[0.309,5.30,0.1],[0.385,5.29,0.09],[0.486,5.37,0.08],[0.612,5.48,0.07],[0.739,5.51,0.07],[0.865,5.55,0.1],[1.0,5.72,0.25]];
var stadBCellFit = [[0,5.34,0.25],[0.018,5.55,0.1],[0.043,5.60,0.07],[0.105,5.55,0.08],[0.18,5.48,0.12],[0.255,5.37,0.2],[0.33,5.17,0.3],[0.405,4.90,0.42],[0.474,4.68,0.6]];
var stadCD8Fit = [[0.019,5.37,0.3],[0.086,5.51,0.1],[0.174,5.55,0.08],[0.261,5.43,0.12],[0.332,5.25,0.2],[0.402,5.17,0.25],[0.472,5.17,0.3],[0.577,5.23,0.45],[0.682,5.37,0.8]];
var stadCD4Fit = [[0.001,5.17,0.3],[0.052,5.34,0.12],[0.102,5.37,0.07],[0.14,5.55,0.08],[0.191,5.69,0.1],[0.241,5.77,0.15],[0.292,5.72,0.22],[0.342,5.65,0.35],[0.422,5.43,0.7]];
var stadMacrophageFit = [[0,5.34,0.2],[0.013,5.30,0.12],[0.032,5.43,0.1],[0.057,5.69,0.1],[0.091,5.81,0.1],[0.14,5.83,0.12],[0.189,5.81,0.15],[0.238,5.72,0.25],[0.297,5.55,0.45],[0.369,5.25,0.95]];
var stadNeutrophilFit = [[0.046,4.90,0.4],[0.064,5.43,0.15],[0.083,5.63,0.08],[0.103,5.51,0.07],[0.134,5.43,0.07],[0.181,5.37,0.1],[0.236,5.34,0.2],[0.256,5.30,0.3],[0.299,5.35,0.75],[0.344,5.46,1.1]];
var stadDendriticFit = [[0.267,5.43,0.25],[0.393,5.48,0.08],[0.512,5.55,0.07],[0.631,5.55,0.08],[0.726,5.48,0.12],[0.845,5.30,0.2],[0.964,5.13,0.35],[1.119,4.99,0.7]];

var points = [
    [paadPurity, paadBCell, paadCD8, paadCD4, paadMacrophage, paadNeutrophil, paadDendritic],
    [stadPurity, stadBCell, stadCD8, stadCD4, stadMacrophage, stadNeutrophil, stadDendritic]
];
var fits = [
    [paadPurityFit, paadBCellFit, paadCD8Fit, paadCD4Fit, paadMacrophageFit, paadNeutrophilFit, paadDendriticFit],
    [stadPurityFit, stadBCellFit, stadCD8Fit, stadCD4Fit, stadMacrophageFit, stadNeutrophilFit, stadDendriticFit]
];

// layout
var panelLeft = 57, panelStep = 143.83, panelW = 138;
var rowBox = [{top: 29, bottom: 163}, {top: 169, bottom: 304}];
var stripTop = 15;
var rowStripX = 43, rowStripW = 12;
var fontFamily = "Liberation Sans, Arial, sans-serif";

var svg = d3.select("#chart");

function minorBreaks(ticks, domain) {
    var out = [];
    var step = ticks[1] - ticks[0];
    var all = [ticks[0] - step].concat(ticks, [ticks[ticks.length - 1] + step]);
    for (var i = 0; i < all.length - 1; i++) {
        var m = (all[i] + all[i + 1]) / 2;
        if (m > domain[0] && m < domain[1]) out.push(m);
    }
    return out;
}

var curve = d3.curveCatmullRom.alpha(0.5);

cohorts.forEach(function(cohort, r) {
    var box = rowBox[r];
    var y = d3.scaleLinear().domain(yDomains[r]).range([box.bottom, box.top]);
    var yMinor = minorBreaks(yTicks[r], yDomains[r]);

    cells.forEach(function(cell, c) {
        var x0 = panelLeft + c * panelStep;
        var x = d3.scaleLinear().domain(xDomains[c]).range([x0, x0 + panelW]);
        var xMinor = minorBreaks(xTicks[c], xDomains[c]);
        var clipId = "clip" + r + "_" + c;

        svg.append("clipPath").attr("id", clipId)
            .append("rect")
            .attr("x", x0).attr("y", box.top)
            .attr("width", panelW).attr("height", box.bottom - box.top);

        var g = svg.append("g").attr("clip-path", "url(#" + clipId + ")");
        g.append("rect")
            .attr("x", x0).attr("y", box.top)
            .attr("width", panelW).attr("height", box.bottom - box.top)
            .attr("fill", "#fff");

        // grid
        g.selectAll(".ymin").data(yMinor).enter().append("line")
            .attr("x1", x0).attr("x2", x0 + panelW)
            .attr("y1", d => y(d)).attr("y2", d => y(d))
            .attr("stroke", "#f0f0f0").attr("stroke-width", 0.6);
        g.selectAll(".xmin").data(xMinor).enter().append("line")
            .attr("y1", box.top).attr("y2", box.bottom)
            .attr("x1", d => x(d)).attr("x2", d => x(d))
            .attr("stroke", "#f0f0f0").attr("stroke-width", 0.6);
        g.selectAll(".ymaj").data(yTicks[r]).enter().append("line")
            .attr("x1", x0).attr("x2", x0 + panelW)
            .attr("y1", d => y(d)).attr("y2", d => y(d))
            .attr("stroke", "#e3e3e3").attr("stroke-width", 1);
        g.selectAll(".xmaj").data(xTicks[c]).enter().append("line")
            .attr("y1", box.top).attr("y2", box.bottom)
            .attr("x1", d => x(d)).attr("x2", d => x(d))
            .attr("stroke", "#e3e3e3").attr("stroke-width", 1);

        // points
        g.selectAll("circle").data(points[r][c]).enter().append("circle")
            .attr("cx", d => x(d[0]))
            .attr("cy", d => y(d[1]))
            .attr("r", 2.5)
            .attr("fill", "#222");

        // confidence band and fit line
        var fit = fits[r][c];
        var band = d3.area()
            .x(d => x(d[0]))
            .y0(d => y(d[1] - d[2]))
            .y1(d => y(d[1] + d[2]))
            .curve(curve);
        g.append("path").attr("d", band(fit))
            .attr("fill", "#999").attr("fill-opacity", 0.4);
        var line = d3.line()
            .x(d => x(d[0]))
            .y(d => y(d[1]))
            .curve(curve);
        g.append("path").attr("d", line(fit))
            .attr("fill", "none").attr("stroke", "#3366ff").attr("stroke-width", 1.6);

        // border
        svg.append("rect")
            .attr("x", x0).attr("y", box.top)
            .attr("width", panelW).attr("height", box.bottom - box.top)
            .attr("fill", "none").attr("stroke", "#555").attr("stroke-width", 1);

        // annotation
        var tx = x0 + panelW - 2;
        svg.append("text").attr("x", tx).attr("y", box.top + 10)
            .attr("text-anchor", "end").attr("font-size", 9.5).attr("fill", "#ff0000")
            .text(corText[r][c]);
        svg.append("text").attr("x", tx).attr("y", box.top + 20)
            .attr("text-anchor", "end").attr("font-size", 9.5).attr("fill", "#ff0000")
            .text(pText[r][c]);

        // column strips on top row
        if (r === 0) {
            svg.append("rect")
                .attr("x", x0).attr("y", stripTop)
                .attr("width", panelW).attr("height", box.top - stripTop)
                .attr("fill", "#d9d9d9").attr("stroke", "#555").attr("stroke-width", 1);
            svg.append("text")
                .attr("x", x0 + panelW / 2).attr("y", stripTop + 9.5)
                .attr("text-anchor", "middle").attr("font-size", 7.5).attr("fill", "#1a1a1a")
                .text(cell);
        }

        // x axis under bottom row
        if (r === cohorts.length - 1) {
            var fmt = c === 0 ? d3.format(".2f") : d3.format(".1f");
            var ax = svg.append("g")
                .attr("transform", "translate(0," + box.bottom + ")")
                .call(d3.axisBottom(x).tickValues(xTicks[c]).tickFormat(fmt).tickSize(3).tickPadding(2));
            ax.select(".domain").remove();
            ax.selectAll("line").attr("stroke", "#333");
            ax.selectAll("text").attr("font-size", 7.5).attr("fill", "#4d4d4d")
                .attr("font-family", fontFamily);
        }
    });

    // row strip and y axis
    svg.append("rect")
        .attr("x", rowStripX).attr("y", box.top)
        .attr("width", rowStripW).attr("height", box.bottom - box.top)
        .attr("fill", "#d9d9d9").attr("stroke", "#555").attr("stroke-width", 1);
    svg.append("text")
        .attr("transform", "translate(" + (rowStripX + rowStripW / 2 + 2.7) + "," + ((box.top + box.bottom) / 2) + ") rotate(-90)")
        .attr("text-anchor", "middle").attr("font-size", 7.5).attr("fill", "#1a1a1a")
        .text(cohort);
    svg.append("line")
        .attr("x1", panelLeft - 0.5).attr("x2", panelLeft - 0.5)
        .attr("y1", box.top).attr("y2", box.bottom)
        .attr("stroke", "#111").attr("stroke-width", 1.2);

    var ay = svg.append("g")
        .attr("transform", "translate(" + rowStripX + ",0)")
        .call(d3.axisLeft(y).tickValues(yTicks[r]).tickFormat(d3.format("d")).tickSize(3).tickPadding(2));
    ay.select(".domain").remove();
    ay.selectAll("line").attr("stroke", "#333");
    ay.selectAll("text").attr("font-size", 7.5).attr("fill", "#4d4d4d")
        .attr("font-family", fontFamily);
});

// titles
svg.append("text")
    .attr("x", (panelLeft + panelLeft + 6 * panelStep + panelW) / 2).attr("y", 327)
    .attr("text-anchor", "middle").attr("font-size", 10).attr("fill", "#000")
    .text("Infiltration Level");
svg.append("text")
    .attr("transform", "translate(32," + ((rowBox[0].top + rowBox[1].bottom) / 2) + ") rotate(-90)")
    .attr("text-anchor", "middle").attr("font-size", 10).attr("fill", "#000")
    .text("YAP1 Expression Level (log2 TPM)");

svg.append("text").attr("x", 3).attr("y", 19)
    .attr("font-size", 21).attr("font-weight", "bold").attr("fill", "#000").text("A");
svg.append("text").attr("x", 3).attr("y", 181)
    .attr("font-size", 21).attr("font-weight", "bold").attr("fill", "#000").text("B");
</script>
</body>
</html>
